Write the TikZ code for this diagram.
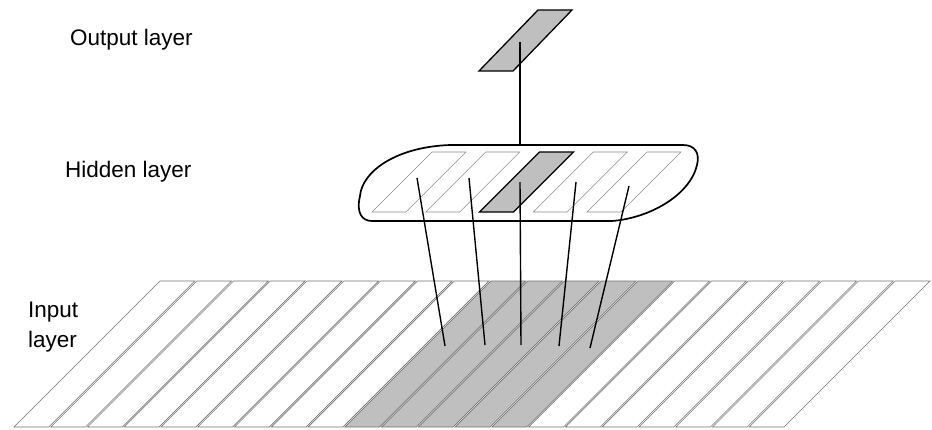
\documentclass[tikz,border=0pt]{standalone}
\usepackage{fontspec}
\setmainfont{Liberation Sans}

\begin{document}
\begin{tikzpicture}[
  x=1pt, y=-1pt,
  layername/.style={inner sep=0pt, anchor=base west, align=left, font=\fontsize{22.5}{30}\selectfont},
  stripe/.style={draw=black!55, line width=0.6pt},
  cell/.style={draw=black!45, line width=0.6pt},
  active/.style={draw=black, line width=1.3pt, fill=black!25},
  link/.style={draw=black, line width=1.4pt},
  hull/.style={draw=black, line width=1.7pt},
]
  \useasboundingbox (0,0) rectangle (932,429);

  % labels
  \node[layername] (outlbl) at (70,45) {Output layer};
  \node[layername] (hidlbl) at (65,177) {Hidden layer};
  \node[layername] (inlbl) at (28,347) {Input\\layer};

  % input layer, 21 stripes, five of them shaded
  \foreach \i in {0,...,20}{
    \pgfmathsetmacro\bx{13+36.76*\i}
    \pgfmathtruncatemacro\shade{(\i>8 && \i<14) ? 25 : 0}
    \draw[stripe, fill=black!\shade] (\bx+1,427) -- (\bx+35.8,427)
      -- (\bx+181.8,281) -- (\bx+147,281) -- cycle;
  }

  % hidden layer
  \draw[hull] (450,145) -- (683,145)
    .. controls (695,145) and (700,153) .. (697,165)
    .. controls (690,195) and (650,218) .. (612,221)
    -- (372,221)
    .. controls (362,221) and (356,213) .. (360,196)
    .. controls (362,172) and (395,147) .. (450,145);
  \foreach \i in {0,1,3,4}{
    \pgfmathsetmacro\bx{372+53.75*\i}
    \draw[cell] (\bx,212) -- (\bx+34,212) -- (\bx+94,152) -- (\bx+60,152) -- cycle;
  }
  \draw[active] (479.5,212) -- (513.5,212) -- (573.5,152) -- (539.5,152) -- cycle;

  % output layer
  \draw[active] (479,71) -- (513,71) -- (572,10) -- (538,10) -- cycle;

  % connections
  \coordinate (outc) at (520,42);
  \coordinate (hidtop) at (520,145);
  \coordinate (h1) at (417,178);
  \coordinate (h2) at (469,178);
  \coordinate (h3) at (520,182);
  \coordinate (h4) at (576,182);
  \coordinate (h5) at (629,186);
  \coordinate (i1) at (445,346);
  \coordinate (i2) at (485,345);
  \coordinate (i3) at (521,345);
  \coordinate (i4) at (559,346);
  \coordinate (i5) at (590,348);

  \draw[link] (outc) -- (hidtop);
  \foreach \k in {1,...,5}
    \draw[link] (h\k) -- (i\k);
\end{tikzpicture}
\end{document}
